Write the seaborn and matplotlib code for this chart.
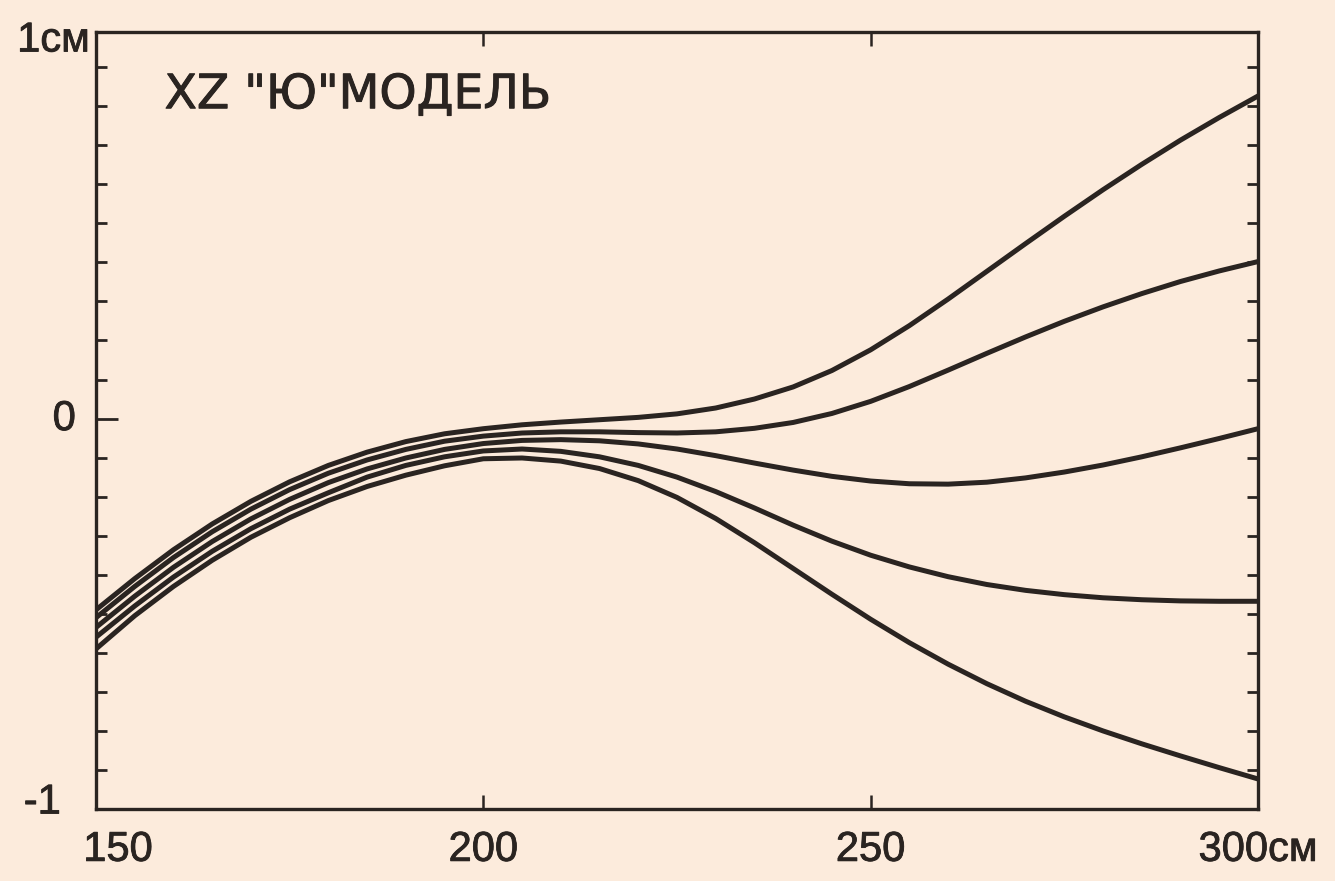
import numpy as np
import pandas as pd
import matplotlib
matplotlib.use("Agg")
import matplotlib.pyplot as plt
import matplotlib.patheffects as pe
from matplotlib.transforms import ScaledTranslation
from matplotlib.ticker import FixedLocator
import seaborn as sns

# Longitudinal position, cm
z_cm = [150, 155, 160, 165, 170, 175, 180, 185, 190, 195, 200,
        205, 210, 215, 220, 225, 230, 235, 240, 245, 250,
        255, 260, 265, 270, 275, 280, 285, 290, 295, 300]

# Transverse displacement of five trajectories, cm
traj_1 = [-0.49, -0.41, -0.336, -0.27, -0.212, -0.162, -0.12, -0.086, -0.059, -0.039, -0.026,
          -0.016, -0.009, -0.003, 0.003, 0.012, 0.027, 0.05, 0.081, 0.123, 0.176,
          0.238, 0.306, 0.377, 0.448, 0.518, 0.586, 0.651, 0.713, 0.771, 0.826]
traj_2 = [-0.51, -0.43, -0.356, -0.29, -0.232, -0.182, -0.14, -0.106, -0.079, -0.058, -0.045,
          -0.037, -0.034, -0.034, -0.036, -0.037, -0.034, -0.025, -0.01, 0.013, 0.044,
          0.082, 0.124, 0.167, 0.209, 0.249, 0.286, 0.32, 0.351, 0.378, 0.402]
traj_3 = [-0.535, -0.455, -0.381, -0.315, -0.257, -0.207, -0.164, -0.129, -0.101, -0.079, -0.064,
          -0.056, -0.054, -0.057, -0.065, -0.078, -0.095, -0.114, -0.132, -0.148, -0.16,
          -0.167, -0.168, -0.163, -0.152, -0.137, -0.119, -0.098, -0.075, -0.051, -0.026]
traj_4 = [-0.56, -0.48, -0.406, -0.34, -0.282, -0.232, -0.19, -0.15, -0.12, -0.098, -0.083,
          -0.078, -0.084, -0.098, -0.12, -0.15, -0.187, -0.229, -0.273, -0.314, -0.35,
          -0.38, -0.405, -0.425, -0.44, -0.451, -0.459, -0.464, -0.467, -0.468, -0.468]
traj_5 = [-0.59, -0.505, -0.43, -0.363, -0.304, -0.254, -0.21, -0.174, -0.145, -0.121, -0.103,
          -0.101, -0.109, -0.128, -0.159, -0.202, -0.256, -0.318, -0.384, -0.45, -0.514,
          -0.574, -0.629, -0.679, -0.724, -0.764, -0.8, -0.833, -0.864, -0.894, -0.923]

x_ticks = [150, 200, 250, 300]
x_labels = ["150", "200", "250", "300см"]
y_label_pos = [-1.0, 0.0, 0.99]
y_labels = ["-1", "0", "1см"]
title_text = 'XZ "Ю"МОДЕЛЬ'

paper = "#fcebdc"
ink = "#2a2421"

sns.set_theme(style="ticks")
plt.rcParams["font.family"] = ["DejaVu Sans"]
label_font = ["Liberation Sans", "DejaVu Sans"]

frames = []
for name, vals in zip(["1", "2", "3", "4", "5"], [traj_1, traj_2, traj_3, traj_4, traj_5]):
    frames.append(pd.DataFrame({"z": z_cm, "x": vals, "traj": name}))
df = pd.concat(frames, ignore_index=True)

fig = plt.figure(figsize=(13.35, 8.81), dpi=100, facecolor=paper)
ax = fig.add_axes([0.0719, 0.0817, 0.8704, 0.882])
ax.set_facecolor(paper)

sns.lineplot(data=df, x="z", y="x", hue="traj", palette=[ink] * 5,
             estimator=None, sort=True, linewidth=3.6, legend=False, ax=ax)
for ln in ax.get_lines():
    ln.set_solid_joinstyle("round")
    ln.set_solid_capstyle("round")

ax.set_xlim(150, 300)
ax.set_ylim(-1.0, 0.99)
ax.set_xlabel("")
ax.set_ylabel("")

for side in ["left", "right", "top", "bottom"]:
    ax.spines[side].set_visible(True)
    ax.spines[side].set_color(ink)
    ax.spines[side].set_linewidth(2.4)

# x axis: labelled ticks, short inward marks on both frames
ax.set_xticks(x_ticks)
ax.set_xticklabels(x_labels)
ax.tick_params(axis="x", which="major", direction="in", length=10, width=1.8,
               color=ink, top=True, bottom=True, labelsize=30, labelcolor=ink, pad=15)

# y axis: labels at -1, 0, 1 and minor marks every 0.1 on both frames
ax.yaxis.set_major_locator(FixedLocator(y_label_pos))
ax.set_yticklabels(y_labels)
minor_y = [v / 10 for v in range(-9, 10) if v != 0]
ax.yaxis.set_minor_locator(FixedLocator(minor_y))
ax.tick_params(axis="y", which="major", direction="in", length=16, width=2.0,
               color=ink, left=True, right=False, labelsize=30, labelcolor=ink, pad=16)
ax.tick_params(axis="y", which="minor", direction="in", length=8, width=2.0,
               color=ink, left=True, right=True)
ax.tick_params(axis="x", which="minor", bottom=False, top=False)

label_stroke = [pe.withStroke(linewidth=0.6, foreground=ink)]
for lab in ax.get_xticklabels() + ax.get_yticklabels():
    lab.set_family(label_font)
    lab.set_path_effects(label_stroke)

# nudge individual tick labels
shifts_x = {"150": (22, 0)}
for lab in ax.get_xticklabels():
    dx, dy = shifts_x.get(lab.get_text(), (0, 0))
    if dx or dy:
        lab.set_transform(lab.get_transform() + ScaledTranslation(dx / 100, dy / 100, fig.dpi_scale_trans))
shifts_y = {"-1": (-13, 11), "0": (2, 4), "1см": (16, -4)}
for lab in ax.get_yticklabels():
    dx, dy = shifts_y.get(lab.get_text(), (0, 0))
    if dx or dy:
        lab.set_transform(lab.get_transform() + ScaledTranslation(dx / 100, dy / 100, fig.dpi_scale_trans))

ax.text(0.059, 0.918, title_text, transform=ax.transAxes, fontsize=34,
        color=ink, ha="left", va="center",
        path_effects=[pe.withStroke(linewidth=0.7, foreground=ink)])

fig.savefig("out.png", dpi=100, facecolor=paper)
